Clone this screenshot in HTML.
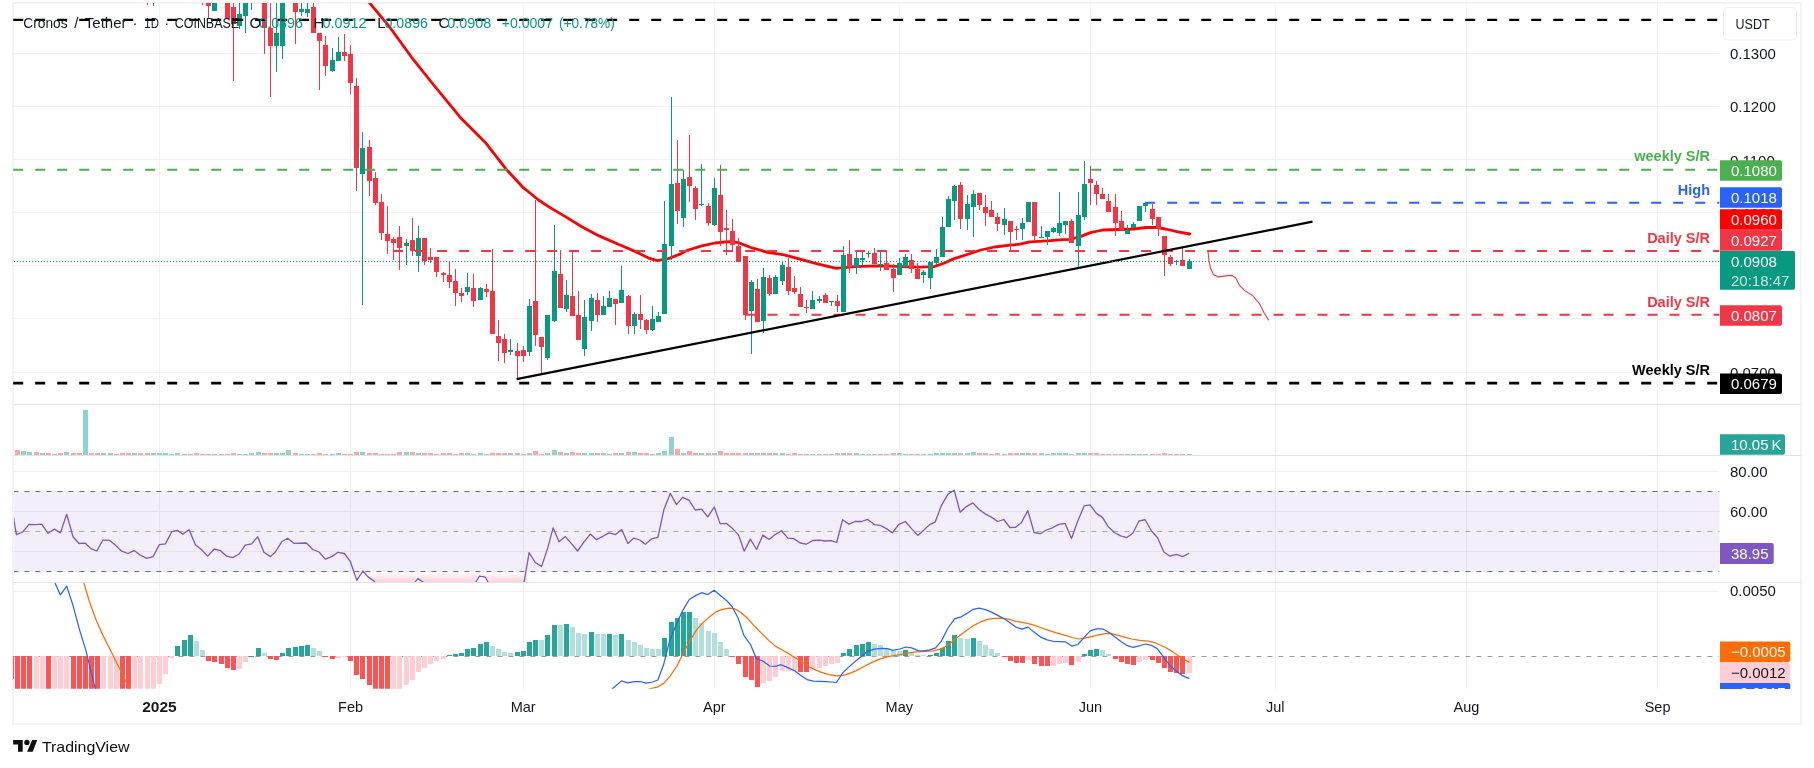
<!DOCTYPE html><html><head><meta charset="utf-8"><title>CROUSDT</title><style>
html,body{margin:0;padding:0;background:#fff}body{width:1814px;height:768px;overflow:hidden;position:relative;font-family:"Liberation Sans",sans-serif}
svg{position:absolute;left:0;top:0;display:block;will-change:transform}text{font-family:"Liberation Sans",sans-serif;font-size:15px;fill:#131722}
.w{fill:#fff}.b{font-weight:bold}.pl{font-weight:bold;font-size:14.5px;text-anchor:end}.t{text-anchor:middle}
</style></head><body>
<svg width="1814" height="768" viewBox="0 0 1814 768">
<defs><clipPath id="cm"><rect x="13" y="3" width="1706.5" height="401"/></clipPath>
<clipPath id="cr"><rect x="14" y="456" width="1705.5" height="126"/></clipPath>
<clipPath id="cd"><rect x="13" y="583" width="1706.5" height="105.8"/></clipPath>
<clipPath id="cb"><rect x="1719" y="583" width="80" height="106"/></clipPath>
<linearGradient id="og" x1="0" y1="571.5" x2="0" y2="582" gradientUnits="userSpaceOnUse"><stop offset="0" stop-color="#ffffff"/><stop offset="1" stop-color="#ffd3d8"/></linearGradient>
</defs>
<rect x="13" y="3" width="1787.9" height="720.8" fill="none" stroke="#f3f3f4" stroke-width="2"/>
<path d="M159.5 4V688.8M350.5 4V688.8M523.5 4V688.8M714.5 4V688.8M899.5 4V688.8M1090.5 4V688.8M1275.5 4V688.8M1466.5 4V688.8M1657.5 4V688.8M14 53.5H1718.8M14 106.5H1718.8M14 159.5H1718.8M14 212.5H1718.8M14 265.5H1718.8M14 318.5H1718.8M14 372.5H1718.8M14 471.5H1718.8M14 511.5H1718.8M14 551.5H1718.8M14 591.5H1718.8" stroke="#f0f1f3" stroke-width="1" fill="none" shape-rendering="crispEdges"/>
<rect x="14" y="491.4" width="1705.5" height="80.1" fill="#f2eefa"/>
<path d="M14 511.5H1719.5M14 551.5H1719.5" stroke="#e6e3ef" stroke-width="1" shape-rendering="crispEdges"/>
<path d="M159.5 491.4V571.5M350.5 491.4V571.5M523.5 491.4V571.5M714.5 491.4V571.5M899.5 491.4V571.5M1090.5 491.4V571.5M1275.5 491.4V571.5M1466.5 491.4V571.5M1657.5 491.4V571.5" stroke="#e6e3ef" stroke-width="1" shape-rendering="crispEdges"/>
<path d="M14 404.5H1800.5M14 455.5H1800.5M14 582.5H1800.5" stroke="#e0e3eb" stroke-width="1" shape-rendering="crispEdges"/>
<path d="M21 451h5v4h-5zM27 452h5v3h-5zM40 453h5v2h-5zM52 454h5v1h-5zM64 452h5v3h-5zM83 410h5v45h-5zM101 453h5v2h-5zM108 453h5v2h-5zM132 453h5v2h-5zM151 453h5v2h-5zM157 453h5v2h-5zM163 453h5v2h-5zM169 454h5v1h-5zM175 453h5v2h-5zM188 454h5v1h-5zM212 454h5v1h-5zM237 454h5v1h-5zM243 454h5v1h-5zM249 453h5v2h-5zM256 452h5v3h-5zM274 453h5v2h-5zM280 453h5v2h-5zM286 450h5v5h-5zM299 454h5v1h-5zM305 454h5v1h-5zM330 454h5v1h-5zM336 453h5v2h-5zM360 452h5v3h-5zM404 452h5v3h-5zM416 453h5v2h-5zM465 453h5v2h-5zM478 453h5v2h-5zM508 453h5v2h-5zM527 453h5v2h-5zM545 453h5v2h-5zM552 450h5v5h-5zM564 453h5v2h-5zM582 453h5v2h-5zM589 453h5v2h-5zM601 453h5v2h-5zM607 454h5v1h-5zM619 453h5v2h-5zM632 452h5v3h-5zM650 454h5v1h-5zM656 453h5v2h-5zM662 451h5v4h-5zM669 437h5v18h-5zM681 453h5v2h-5zM699 453h5v2h-5zM712 453h5v2h-5zM749 453h5v2h-5zM761 453h5v2h-5zM773 453h5v2h-5zM780 453h5v2h-5zM810 454h5v1h-5zM817 454h5v1h-5zM829 454h5v1h-5zM841 453h5v2h-5zM854 453h5v2h-5zM860 454h5v1h-5zM866 454h5v1h-5zM878 454h5v1h-5zM897 453h5v2h-5zM903 454h5v1h-5zM921 454h5v1h-5zM928 454h5v1h-5zM934 453h5v2h-5zM940 453h5v2h-5zM946 453h5v2h-5zM952 453h5v2h-5zM965 453h5v2h-5zM971 452h5v3h-5zM1002 454h5v1h-5zM1020 453h5v2h-5zM1026 453h5v2h-5zM1039 453h5v2h-5zM1045 454h5v1h-5zM1051 453h5v2h-5zM1057 453h5v2h-5zM1063 453h5v2h-5zM1076 453h5v2h-5zM1082 453h5v2h-5zM1125 454h5v1h-5zM1131 454h5v1h-5zM1137 454h5v1h-5zM1143 454h5v1h-5zM1174 454h5v1h-5zM1187 454h5v1h-5z" fill="#92d2cc" shape-rendering="crispEdges"/>
<path d="M15 450h5v5h-5zM34 452h5v3h-5zM46 453h5v2h-5zM58 453h5v2h-5zM71 453h5v2h-5zM77 453h5v2h-5zM89 453h5v2h-5zM95 453h5v2h-5zM114 454h5v1h-5zM120 453h5v2h-5zM126 453h5v2h-5zM138 453h5v2h-5zM145 453h5v2h-5zM182 454h5v1h-5zM194 453h5v2h-5zM200 454h5v1h-5zM206 454h5v1h-5zM219 454h5v1h-5zM225 454h5v1h-5zM231 453h5v2h-5zM262 453h5v2h-5zM268 453h5v2h-5zM293 453h5v2h-5zM311 454h5v1h-5zM317 453h5v2h-5zM323 454h5v1h-5zM342 454h5v1h-5zM348 454h5v1h-5zM354 452h5v3h-5zM367 453h5v2h-5zM373 453h5v2h-5zM379 454h5v1h-5zM385 454h5v1h-5zM391 454h5v1h-5zM397 452h5v3h-5zM410 452h5v3h-5zM422 453h5v2h-5zM428 453h5v2h-5zM434 454h5v1h-5zM441 453h5v2h-5zM447 453h5v2h-5zM453 454h5v1h-5zM459 453h5v2h-5zM471 454h5v1h-5zM484 454h5v1h-5zM490 453h5v2h-5zM496 453h5v2h-5zM502 453h5v2h-5zM515 453h5v2h-5zM521 454h5v1h-5zM533 451h5v4h-5zM539 454h5v1h-5zM558 452h5v3h-5zM570 452h5v3h-5zM576 453h5v2h-5zM595 453h5v2h-5zM613 453h5v2h-5zM626 452h5v3h-5zM638 453h5v2h-5zM644 453h5v2h-5zM675 449h5v6h-5zM687 451h5v4h-5zM693 453h5v2h-5zM706 453h5v2h-5zM718 451h5v4h-5zM724 453h5v2h-5zM730 453h5v2h-5zM736 453h5v2h-5zM743 453h5v2h-5zM755 453h5v2h-5zM767 453h5v2h-5zM786 454h5v1h-5zM792 453h5v2h-5zM798 454h5v1h-5zM804 454h5v1h-5zM823 454h5v1h-5zM835 453h5v2h-5zM847 453h5v2h-5zM872 454h5v1h-5zM884 454h5v1h-5zM891 453h5v2h-5zM909 454h5v1h-5zM915 454h5v1h-5zM958 453h5v2h-5zM977 453h5v2h-5zM983 453h5v2h-5zM989 454h5v1h-5zM995 453h5v2h-5zM1008 453h5v2h-5zM1014 453h5v2h-5zM1032 453h5v2h-5zM1069 454h5v1h-5zM1088 453h5v2h-5zM1094 453h5v2h-5zM1100 454h5v1h-5zM1106 454h5v1h-5zM1113 454h5v1h-5zM1119 454h5v1h-5zM1150 454h5v1h-5zM1156 454h5v1h-5zM1162 453h5v2h-5zM1168 454h5v1h-5zM1180 454h5v1h-5z" fill="#f7a9a7" shape-rendering="crispEdges"/>
<g clip-path="url(#cm)"><polyline points="366.0,-2.0 370.0,3.4 388.7,25.8 411.6,57.3 434.5,86.0 454.6,110.3 460.3,117.5 486.1,143.3 506.1,169.1 523.3,187.7 530.0,193.0 538.5,200.0 549.7,207.4 564.5,216.1 581.8,226.7 599.1,235.9 618.9,244.5 636.2,251.9 648.6,258.1 657.4,260.6 668.4,258.6 680.7,253.9 686.8,250.5 700.9,246.2 715.0,243.0 729.0,241.6 738.3,242.6 750.8,247.5 767.5,252.3 784.2,254.8 800.8,259.4 817.5,263.8 836.2,268.3 843.5,267.7 855.0,266.7 875.8,265.8 896.7,266.4 906.7,266.8 920.4,267.1 934.0,266.6 943.8,263.2 953.6,258.9 967.2,254.5 980.9,250.0 994.6,247.0 1008.2,245.3 1020.0,244.1 1029.7,241.8 1047.3,240.8 1062.9,239.6 1069.8,239.4 1079.5,236.9 1091.2,232.4 1103.0,230.0 1118.6,229.5 1134.2,229.0 1145.9,227.5 1155.7,227.3 1165.4,229.0 1177.1,231.6 1189.8,234.0" fill="none" stroke="#ff0000" stroke-width="2.8" stroke-linejoin="round" stroke-linecap="round"/></g>
<g clip-path="url(#cm)" shape-rendering="crispEdges">
<path d="M153 0h1v6h-1zM214 0h1v11h-1zM212 0h5v11h-5zM239 0h1v29h-1zM237 14h5v12h-5zM245 0h1v33h-1zM243 0h5v16h-5zM251 0h1v10h-1zM276 0h1v72h-1zM274 33h5v13h-5zM282 0h1v59h-1zM280 0h5v46h-5zM301 0h1v16h-1zM299 9h5v3h-5zM307 0h1v17h-1zM305 9h5v4h-5zM332 48h1v24h-1zM330 60h5v11h-5zM338 37h1v24h-1zM336 52h5v9h-5zM362 132h1v173h-1zM360 148h5v26h-5zM406 239h1v26h-1zM404 243h5v3h-5zM418 226h1v46h-1zM416 238h5v18h-5zM467 273h1v22h-1zM465 287h5v5h-5zM480 287h1v13h-1zM478 288h5v12h-5zM510 339h1v16h-1zM508 350h5v2h-5zM529 299h1v57h-1zM527 306h5v46h-5zM547 315h1v45h-1zM545 315h5v43h-5zM554 225h1v97h-1zM552 271h5v50h-5zM566 280h1v32h-1zM564 295h5v14h-5zM584 300h1v56h-1zM582 317h5v32h-5zM591 294h1v37h-1zM589 298h5v23h-5zM603 296h1v19h-1zM601 306h5v9h-5zM609 291h1v16h-1zM607 298h5v9h-5zM621 266h1v37h-1zM619 290h5v13h-5zM634 312h1v22h-1zM632 314h5v12h-5zM652 306h1v25h-1zM650 319h5v11h-5zM658 312h1v10h-1zM656 316h5v6h-5zM664 201h1v113h-1zM662 244h5v70h-5zM671 97h1v163h-1zM669 184h5v62h-5zM683 170h1v57h-1zM681 179h5v39h-5zM701 164h1v42h-1zM699 204h5v1h-5zM714 178h1v48h-1zM712 188h5v37h-5zM751 280h1v74h-1zM749 282h5v29h-5zM763 268h1v65h-1zM761 277h5v44h-5zM775 275h1v19h-1zM773 277h5v17h-5zM782 261h1v24h-1zM780 265h5v16h-5zM812 291h1v18h-1zM810 300h5v9h-5zM819 296h1v7h-1zM817 299h5v2h-5zM831 301h1v5h-1zM829 301h5v1h-5zM843 246h1v66h-1zM841 255h5v57h-5zM856 251h1v23h-1zM854 258h5v9h-5zM862 252h1v14h-1zM860 258h5v2h-5zM868 251h1v7h-1zM866 253h5v1h-5zM880 251h1v20h-1zM878 264h5v1h-5zM899 258h1v17h-1zM897 263h5v12h-5zM905 254h1v13h-1zM903 257h5v10h-5zM923 270h1v13h-1zM921 272h5v3h-5zM930 262h1v27h-1zM928 262h5v16h-5zM936 249h1v16h-1zM934 257h5v6h-5zM942 217h1v40h-1zM940 227h5v30h-5zM948 196h1v31h-1zM946 199h5v28h-5zM954 185h1v35h-1zM952 186h5v15h-5zM967 195h1v35h-1zM965 204h5v15h-5zM973 190h1v47h-1zM971 194h5v13h-5zM1004 208h1v27h-1zM1002 219h5v6h-5zM1022 218h1v22h-1zM1020 223h5v6h-5zM1028 202h1v20h-1zM1026 202h5v20h-5zM1041 226h1v12h-1zM1039 237h5v1h-5zM1047 231h1v14h-1zM1045 231h5v6h-5zM1053 227h1v6h-1zM1051 228h5v4h-5zM1059 192h1v44h-1zM1057 223h5v10h-5zM1065 221h1v13h-1zM1063 221h5v4h-5zM1078 192h1v75h-1zM1076 215h5v31h-5zM1084 161h1v59h-1zM1082 184h5v33h-5zM1127 225h1v9h-1zM1125 230h5v4h-5zM1133 222h1v6h-1zM1131 224h5v4h-5zM1139 206h1v15h-1zM1137 206h5v15h-5zM1145 203h1v9h-1zM1143 203h5v3h-5zM1176 260h1v5h-1zM1174 261h5v1h-5zM1189 259h1v10h-1zM1187 261h5v8h-5z" fill="#089981"/>
<path d="M147 0h1v5h-1zM202 0h1v5h-1zM208 0h1v19h-1zM206 0h5v6h-5zM227 0h1v19h-1zM225 0h5v19h-5zM233 0h1v81h-1zM231 7h5v17h-5zM264 0h1v54h-1zM262 0h5v28h-5zM270 0h1v97h-1zM268 28h5v18h-5zM295 0h1v44h-1zM293 0h5v12h-5zM313 0h1v33h-1zM311 7h5v26h-5zM319 33h1v57h-1zM317 33h5v8h-5zM325 36h1v40h-1zM323 45h5v21h-5zM344 34h1v27h-1zM342 52h5v4h-5zM350 45h1v49h-1zM348 54h5v29h-5zM356 78h1v113h-1zM354 86h5v82h-5zM369 140h1v56h-1zM367 147h5v34h-5zM375 172h1v33h-1zM373 178h5v25h-5zM381 194h1v46h-1zM379 202h5v31h-5zM387 206h1v48h-1zM385 234h5v7h-5zM393 237h1v23h-1zM391 239h5v4h-5zM399 226h1v44h-1zM397 237h5v11h-5zM412 218h1v38h-1zM410 240h5v11h-5zM424 238h1v27h-1zM422 238h5v23h-5zM430 248h1v15h-1zM428 257h5v3h-5zM436 257h1v20h-1zM434 257h5v15h-5zM443 272h1v10h-1zM441 273h5v2h-5zM449 261h1v27h-1zM447 275h5v7h-5zM455 269h1v37h-1zM453 281h5v12h-5zM461 288h1v14h-1zM459 293h5v3h-5zM473 274h1v33h-1zM471 288h5v13h-5zM486 284h1v13h-1zM484 289h5v3h-5zM492 249h1v85h-1zM490 291h5v43h-5zM498 320h1v41h-1zM496 336h5v7h-5zM504 334h1v29h-1zM502 339h5v14h-5zM517 343h1v36h-1zM515 351h5v5h-5zM523 346h1v16h-1zM521 350h5v6h-5zM535 200h1v146h-1zM533 301h5v34h-5zM541 337h1v38h-1zM539 337h5v10h-5zM560 250h1v58h-1zM558 274h5v34h-5zM572 250h1v66h-1zM570 296h5v20h-5zM578 291h1v49h-1zM576 315h5v25h-5zM597 293h1v29h-1zM595 300h5v15h-5zM615 299h1v26h-1zM613 299h5v5h-5zM628 295h1v39h-1zM626 296h5v30h-5zM640 295h1v34h-1zM638 314h5v6h-5zM646 319h1v15h-1zM644 320h5v10h-5zM677 140h1v84h-1zM675 183h5v28h-5zM689 135h1v67h-1zM687 177h5v9h-5zM695 186h1v34h-1zM693 188h5v21h-5zM708 203h1v23h-1zM706 206h5v17h-5zM720 165h1v81h-1zM718 195h5v37h-5zM726 210h1v45h-1zM724 228h5v2h-5zM732 219h1v32h-1zM730 231h5v14h-5zM738 238h1v24h-1zM736 246h5v16h-5zM745 256h1v64h-1zM743 256h5v59h-5zM757 279h1v43h-1zM755 289h5v33h-5zM769 275h1v21h-1zM767 278h5v16h-5zM788 258h1v37h-1zM786 267h5v24h-5zM794 276h1v18h-1zM792 288h5v4h-5zM800 287h1v20h-1zM798 294h5v13h-5zM806 300h1v13h-1zM804 307h5v1h-5zM825 293h1v10h-1zM823 295h5v8h-5zM837 295h1v17h-1zM835 301h5v5h-5zM849 240h1v33h-1zM847 254h5v13h-5zM874 248h1v16h-1zM872 253h5v11h-5zM886 251h1v19h-1zM884 263h5v7h-5zM893 264h1v28h-1zM891 269h5v9h-5zM911 254h1v19h-1zM909 260h5v9h-5zM917 263h1v16h-1zM915 269h5v10h-5zM960 182h1v47h-1zM958 185h5v34h-5zM979 193h1v17h-1zM977 193h5v12h-5zM985 195h1v31h-1zM983 207h5v6h-5zM991 201h1v16h-1zM989 210h5v7h-5zM997 213h1v18h-1zM995 217h5v7h-5zM1010 221h1v29h-1zM1008 221h5v11h-5zM1016 226h1v14h-1zM1014 229h5v1h-5zM1034 202h1v39h-1zM1032 202h5v34h-5zM1071 219h1v24h-1zM1069 221h5v22h-5zM1090 166h1v39h-1zM1088 179h5v4h-5zM1096 181h1v24h-1zM1094 185h5v9h-5zM1102 188h1v11h-1zM1100 194h5v5h-5zM1108 194h1v18h-1zM1106 201h5v11h-5zM1115 194h1v42h-1zM1113 207h5v16h-5zM1121 211h1v19h-1zM1119 221h5v9h-5zM1152 204h1v21h-1zM1150 209h5v10h-5zM1158 217h1v19h-1zM1156 217h5v12h-5zM1164 236h1v40h-1zM1162 236h5v19h-5zM1170 255h1v11h-1zM1168 257h5v7h-5zM1182 248h1v18h-1zM1180 260h5v6h-5z" fill="#f23645"/>
</g>
<g clip-path="url(#cm)">
<path d="M13.2 19.9H1719.5" stroke="#000" stroke-width="2.4" stroke-dasharray="10 12" fill="none"/>
<path d="M13.2 169.7H1719.5" stroke="#4caf50" stroke-width="2" stroke-dasharray="10 12" fill="none"/>
<path d="M1145.2 202.7H1719.5" stroke="#2962ff" stroke-width="2" stroke-dasharray="10 12" fill="none"/>
<path d="M393.1 250.9H1719.5" stroke="#f23645" stroke-width="2" stroke-dasharray="10 12" fill="none"/>
<path d="M745.5 314.8H1719.5" stroke="#f23645" stroke-width="2" stroke-dasharray="10 12" fill="none"/>
<path d="M13.2 383.1H1719.5" stroke="#000" stroke-width="2.6" stroke-dasharray="10 12" fill="none"/>
<path d="M516.6 379.2L1312.5 221.6" stroke="#000" stroke-width="2.2" fill="none"/>
<polyline points="1208.0,251.1 1208.9,260.3 1210.5,268.1 1213.4,274.4 1218.3,276.9 1226.1,275.9 1232.0,275.4 1235.9,278.3 1239.8,285.7 1244.7,290.6 1252.5,295.5 1259.3,303.3 1264.2,313.0 1268.7,320.3" fill="none" stroke="#f23645" stroke-width="1.1" stroke-linejoin="round"/>
<path d="M14 261.5H1719.5" stroke="#089981" stroke-width="1" stroke-dasharray="1 2" shape-rendering="crispEdges"/>
</g>
<g clip-path="url(#cr)">
<polygon points="356.7,571.5 356.7,580.3 363.0,571.5 367.7,576.6 374.0,581.1 380.1,588.7 386.3,590.4 392.8,592.1 399.0,590.4 405.3,588.7 411.7,586.2 418.0,578.6 424.1,582.8 430.4,587.0 436.8,588.7 443.1,590.4 449.3,592.1 455.4,590.4 461.7,588.7 467.6,587.9 473.5,586.2 479.4,576.2 485.4,577.2 490.1,586.2 496.4,590.4 502.6,592.1 509.1,593.8 515.0,595.5 521.8,595.5 529.1,571.5 529.1,571.5" fill="url(#og)"/>
<path d="M13.4 491.5H1719.5M13.4 571.5H1719.5" stroke="#6b6e78" stroke-width="1.2" stroke-dasharray="5 6" fill="none"/>
<path d="M13.4 531.5H1719.5" stroke="#a9abb3" stroke-width="1.2" stroke-dasharray="5 6" fill="none"/>
<polyline points="13.4,516.8 16.4,534.6 22.7,532.0 29.1,524.4 35.4,524.7 41.7,524.1 47.9,533.2 54.4,529.1 60.4,532.9 66.7,514.3 73.0,536.8 79.1,543.5 85.3,543.2 90.9,548.6 96.7,551.0 102.8,540.2 109.4,540.2 115.8,545.6 121.7,551.2 128.0,553.5 134.1,550.6 140.4,555.2 146.8,558.3 153.1,556.6 159.3,544.7 165.4,543.9 171.7,531.7 177.6,530.5 182.8,534.1 189.1,529.7 195.4,544.7 201.6,549.8 207.7,556.1 214.2,549.0 220.3,550.6 226.7,556.2 232.8,557.6 239.1,554.0 245.3,545.1 251.6,543.9 257.7,536.8 263.9,552.3 270.4,556.6 275.3,552.0 281.7,541.8 287.6,538.3 294.1,543.4 306.4,543.0 312.7,549.5 319.0,552.0 325.4,559.1 331.7,556.6 337.9,552.3 344.4,553.5 350.4,561.7 356.7,580.3 363.0,571.0 367.7,576.6 374.0,581.1 380.1,588.7 386.3,590.4 392.8,592.1 399.0,590.4 405.3,588.7 411.7,586.2 418.0,578.6 424.1,582.8 430.4,587.0 436.8,588.7 443.1,590.4 449.3,592.1 455.4,590.4 461.7,588.7 467.6,587.9 473.5,586.2 479.4,576.2 485.4,577.2 490.1,586.2 496.4,590.4 502.6,592.1 509.1,593.8 515.0,595.5 521.8,595.5 529.1,552.7 535.3,562.5 541.6,566.4 547.7,548.1 553.1,527.8 559.0,541.8 565.3,536.6 571.7,543.9 577.6,551.0 584.1,541.8 590.3,534.1 596.3,539.6 603.0,536.3 609.0,532.9 615.6,534.6 621.7,529.5 627.9,543.4 633.9,538.1 639.8,540.0 645.4,544.2 651.6,538.8 657.9,537.4 664.0,509.2 670.3,493.4 676.5,504.6 682.6,497.3 688.9,500.2 695.3,510.0 701.6,509.2 707.8,516.8 714.3,507.0 720.2,523.9 726.5,523.4 732.6,528.6 738.5,534.9 744.2,551.2 750.3,539.1 756.6,549.5 762.9,535.1 769.0,539.5 775.2,534.6 781.5,530.7 787.9,538.1 793.8,538.6 800.1,543.0 806.2,544.2 812.8,540.5 819.2,540.2 825.2,541.0 831.1,540.7 836.7,542.5 842.6,519.7 848.9,524.1 855.1,521.5 861.6,521.5 867.5,519.3 874.3,524.6 880.2,525.3 886.4,528.6 892.5,532.9 898.6,524.7 905.4,521.5 911.5,528.6 917.8,535.4 923.7,530.3 929.3,524.9 935.2,521.9 941.5,505.3 947.9,494.3 954.2,490.2 960.1,512.2 966.5,506.6 972.8,502.9 979.1,509.5 985.2,513.9 991.4,517.1 997.7,521.5 1003.8,519.5 1010.0,527.5 1015.6,527.3 1021.6,522.4 1027.8,510.5 1034.1,532.5 1040.2,533.7 1046.4,530.0 1052.4,527.8 1058.8,524.4 1065.1,523.4 1071.5,538.5 1077.8,521.0 1084.2,505.8 1090.1,504.9 1096.4,513.4 1102.6,517.6 1108.2,526.6 1114.2,532.5 1120.6,535.9 1126.8,537.6 1132.8,533.2 1139.0,521.0 1145.1,519.7 1151.4,530.8 1157.7,538.0 1163.8,552.0 1170.0,556.2 1176.5,554.4 1182.7,556.6 1189.1,553.2" fill="none" stroke="#7e57c2" stroke-width="1.3" stroke-linejoin="round"/>
</g>
<g clip-path="url(#cd)">
<path d="M13.4 656.5H1719.5" stroke="#9a9ca5" stroke-width="1.1" stroke-dasharray="5 6" fill="none"/>
<path d="M9 656h5v23h-5zM15 656h5v40h-5zM21 656h5v40h-5zM27 656h5v40h-5zM46 656h5v40h-5zM71 656h5v40h-5zM77 656h5v40h-5zM83 656h5v40h-5zM89 656h5v40h-5zM95 656h5v40h-5zM120 656h5v40h-5zM126 656h5v40h-5zM206 656h5v5h-5zM212 656h5v6h-5zM219 656h5v8h-5zM225 656h5v12h-5zM231 656h5v14h-5zM268 656h5v3h-5zM274 656h5v4h-5zM323 656h5v1h-5zM330 656h5v3h-5zM348 656h5v5h-5zM354 656h5v19h-5zM360 656h5v23h-5zM367 656h5v29h-5zM373 656h5v40h-5zM379 656h5v40h-5zM385 656h5v40h-5zM730 656h5v1h-5zM736 656h5v8h-5zM743 656h5v21h-5zM749 656h5v24h-5zM755 656h5v31h-5zM798 656h5v16h-5zM804 656h5v16h-5zM1002 656h5v1h-5zM1008 656h5v5h-5zM1014 656h5v7h-5zM1020 656h5v7h-5zM1032 656h5v8h-5zM1039 656h5v10h-5zM1045 656h5v10h-5zM1069 656h5v9h-5zM1113 656h5v3h-5zM1119 656h5v6h-5zM1125 656h5v8h-5zM1131 656h5v9h-5zM1150 656h5v4h-5zM1156 656h5v7h-5zM1162 656h5v12h-5zM1168 656h5v16h-5zM1174 656h5v17h-5zM1180 656h5v18h-5z" fill="#ff5252" shape-rendering="crispEdges"/>
<path d="M34 656h5v40h-5zM40 656h5v40h-5zM52 656h5v40h-5zM58 656h5v40h-5zM64 656h5v40h-5zM101 656h5v40h-5zM108 656h5v40h-5zM114 656h5v40h-5zM132 656h5v40h-5zM138 656h5v40h-5zM145 656h5v40h-5zM151 656h5v40h-5zM157 656h5v28h-5zM163 656h5v18h-5zM169 656h5v2h-5zM237 656h5v13h-5zM243 656h5v6h-5zM336 656h5v2h-5zM342 656h5v1h-5zM391 656h5v40h-5zM397 656h5v40h-5zM404 656h5v29h-5zM410 656h5v24h-5zM416 656h5v16h-5zM422 656h5v12h-5zM428 656h5v8h-5zM434 656h5v5h-5zM441 656h5v3h-5zM761 656h5v27h-5zM767 656h5v25h-5zM773 656h5v21h-5zM780 656h5v15h-5zM786 656h5v15h-5zM792 656h5v14h-5zM810 656h5v14h-5zM817 656h5v12h-5zM823 656h5v10h-5zM829 656h5v8h-5zM835 656h5v7h-5zM1026 656h5v4h-5zM1051 656h5v10h-5zM1057 656h5v8h-5zM1063 656h5v7h-5zM1076 656h5v6h-5zM1137 656h5v6h-5zM1143 656h5v4h-5zM1187 656h5v17h-5z" fill="#ffcdd2" shape-rendering="crispEdges"/>
<path d="M175 646h5v10h-5zM182 640h5v16h-5zM188 635h5v21h-5zM249 656h5v1h-5zM256 648h5v8h-5zM280 653h5v3h-5zM286 648h5v8h-5zM293 647h5v9h-5zM299 646h5v10h-5zM305 645h5v11h-5zM447 655h5v1h-5zM453 654h5v2h-5zM459 653h5v3h-5zM465 649h5v7h-5zM471 648h5v8h-5zM478 644h5v12h-5zM484 642h5v14h-5zM515 652h5v4h-5zM521 651h5v5h-5zM527 642h5v14h-5zM533 640h5v16h-5zM545 635h5v21h-5zM552 625h5v31h-5zM564 624h5v32h-5zM589 632h5v24h-5zM607 634h5v22h-5zM619 634h5v22h-5zM662 638h5v18h-5zM669 622h5v34h-5zM675 618h5v38h-5zM681 612h5v44h-5zM687 612h5v44h-5zM841 653h5v3h-5zM847 649h5v7h-5zM854 645h5v11h-5zM860 644h5v12h-5zM866 642h5v14h-5zM903 650h5v6h-5zM928 655h5v1h-5zM934 653h5v3h-5zM940 648h5v8h-5zM946 641h5v15h-5zM952 635h5v21h-5zM971 638h5v18h-5zM1082 654h5v2h-5zM1088 650h5v6h-5zM1094 649h5v7h-5z" fill="#26a69a" shape-rendering="crispEdges"/>
<path d="M194 641h5v15h-5zM200 650h5v6h-5zM262 653h5v3h-5zM311 648h5v8h-5zM317 651h5v5h-5zM490 646h5v10h-5zM496 649h5v7h-5zM502 652h5v4h-5zM508 653h5v3h-5zM539 640h5v16h-5zM558 625h5v31h-5zM570 627h5v29h-5zM576 633h5v23h-5zM582 634h5v22h-5zM595 634h5v22h-5zM601 634h5v22h-5zM613 635h5v21h-5zM626 640h5v16h-5zM632 642h5v14h-5zM638 645h5v11h-5zM644 648h5v8h-5zM650 649h5v7h-5zM656 649h5v7h-5zM693 618h5v38h-5zM699 623h5v33h-5zM706 631h5v25h-5zM712 633h5v23h-5zM718 642h5v14h-5zM724 649h5v7h-5zM872 644h5v12h-5zM878 645h5v11h-5zM884 649h5v7h-5zM891 651h5v5h-5zM897 651h5v5h-5zM909 653h5v3h-5zM915 655h5v1h-5zM921 655h5v1h-5zM958 638h5v18h-5zM965 639h5v17h-5zM977 641h5v15h-5zM983 645h5v11h-5zM989 649h5v7h-5zM995 653h5v3h-5zM1100 650h5v6h-5zM1106 654h5v2h-5z" fill="#b2dfdb" shape-rendering="crispEdges"/>
<polyline points="82.8,580.0 83.6,582.3 89.4,601.5 96.0,619.7 102.6,634.6 109.2,647.8 115.8,661.0 122.5,674.3 129.1,688.8 133.2,699.1" fill="none" stroke="#ff6d00" stroke-width="1.25" stroke-linejoin="round"/>
<polyline points="641.3,692.5 649.6,688.8 657.1,687.2 663.7,683.4 670.3,675.9 676.9,666.0 683.5,652.8 690.1,640.4 696.7,629.6 703.4,622.2 710.0,616.4 715.8,611.9 722.4,609.3 729.0,608.1 734.8,608.9 740.6,612.2 747.2,618.0 754.6,626.3 761.2,632.9 768.7,640.4 775.3,646.1 781.9,649.8 788.5,653.6 795.1,657.7 800.9,661.0 807.5,666.0 814.2,669.3 821.6,672.3 829.0,674.6 836.5,675.9 843.1,675.4 849.7,673.4 856.3,670.6 864.6,666.3 872.9,661.9 881.1,658.6 889.4,656.4 900.0,654.7 908.3,652.8 916.5,651.9 924.8,651.4 933.1,650.8 940.5,649.1 948.0,645.3 954.6,639.5 961.2,634.6 967.8,629.6 974.4,625.1 981.0,621.7 987.6,619.4 994.3,618.4 1000.9,618.2 1007.5,618.9 1015.8,621.3 1024.0,622.7 1032.3,624.7 1040.6,627.5 1048.8,630.4 1057.1,633.2 1065.4,635.4 1072.0,637.5 1078.6,639.0 1085.2,638.2 1091.8,636.6 1098.4,634.9 1105.1,633.7 1111.7,633.7 1118.3,635.4 1124.9,637.1 1131.5,639.0 1139.8,640.4 1148.1,641.2 1156.3,643.2 1164.6,647.0 1172.9,651.9 1181.1,657.7 1189.4,662.4" fill="none" stroke="#ff6d00" stroke-width="1.25" stroke-linejoin="round"/>
<polyline points="53.3,580.0 54.7,582.3 60.4,594.9 66.7,586.1 72.8,604.8 79.5,629.6 86.1,651.1 95.2,688.8 99.3,705.7" fill="none" stroke="#2962ff" stroke-width="1.25" stroke-linejoin="round"/>
<polyline points="606.6,695.8 612.4,688.8 621.5,680.9 627.8,682.9 633.9,681.7 640.2,681.5 646.3,683.2 652.6,682.0 657.9,680.0 663.7,664.3 669.5,641.2 676.1,624.7 682.2,611.4 689.3,599.5 695.9,595.4 701.7,592.7 707.8,594.6 714.1,590.3 720.7,595.7 726.8,600.7 732.3,607.0 738.1,618.0 743.9,635.4 750.5,644.5 756.3,658.6 762.9,661.0 769.5,666.0 775.3,666.3 781.1,664.7 787.7,667.6 794.3,670.6 800.9,675.6 807.0,679.6 813.3,681.2 819.9,681.4 825.7,681.7 831.5,682.0 836.5,682.5 842.3,673.4 848.1,667.6 854.7,661.9 861.3,656.4 867.9,651.1 874.5,649.1 881.1,648.3 887.7,648.6 892.7,650.3 900.0,649.0 905.8,647.0 911.6,647.8 918.2,650.6 924.0,650.8 929.8,649.8 935.6,647.8 941.3,641.2 948.0,628.0 954.6,618.9 960.4,617.2 966.1,613.9 972.8,609.4 979.4,608.1 986.0,609.8 992.6,612.6 999.2,616.1 1005.8,619.7 1015.8,627.1 1021.9,629.1 1028.2,627.1 1034.0,632.1 1040.6,637.1 1047.2,639.9 1053.8,641.5 1059.6,641.7 1065.4,641.8 1072.0,646.1 1077.8,644.5 1084.4,637.1 1090.2,630.9 1096.8,628.8 1102.6,628.8 1109.2,632.6 1115.0,637.1 1121.6,642.0 1127.4,645.7 1133.2,647.3 1139.0,645.8 1145.6,644.0 1151.4,645.3 1157.2,648.6 1162.9,656.1 1169.6,665.2 1176.2,671.0 1182.8,675.9 1189.4,678.7" fill="none" stroke="#2962ff" stroke-width="1.25" stroke-linejoin="round"/>
</g>
<text x="1730" y="59.3">0.1300</text>
<text x="1730" y="112.4">0.1200</text>
<text x="1730" y="165.5">0.1100</text>
<text x="1730" y="218.6">0.1000</text>
<text x="1730" y="271.7">0.0900</text>
<text x="1730" y="324.8">0.0800</text>
<text x="1730" y="377.9">0.0700</text>
<text x="1730" y="476.7">80.00</text>
<text x="1730" y="517.0">60.00</text>
<text x="1730" y="557.0">40.00</text>
<text x="1730" y="596.3">0.0050</text>
<text x="1730" y="661.9">0.0000</text>
<g><path d="M1720 160.2H1780.0a2 2 0 0 1 2 2V178.8a2 2 0 0 1 -2 2H1720Z" fill="#4caf50"/>
<text x="1731" y="175.9" fill="#fff" style="fill:#fff" opacity="1">0.1080</text>
</g>
<g><path d="M1720 187.2H1780.0a2 2 0 0 1 2 2V205.8a2 2 0 0 1 -2 2H1720Z" fill="#2962ff"/>
<text x="1731" y="202.9" fill="#fff" style="fill:#fff" opacity="1">0.1018</text>
</g>
<g><path d="M1720 209.2H1780.0a2 2 0 0 1 2 2V227.8a2 2 0 0 1 -2 2H1720Z" fill="#ff0000"/>
<text x="1731" y="224.9" fill="#fff" style="fill:#fff" opacity="1">0.0960</text>
</g>
<g><path d="M1720 229.8H1780.0a2 2 0 0 1 2 2V248.8a2 2 0 0 1 -2 2H1720Z" fill="#f23645"/>
<text x="1731" y="245.7" fill="#fff" style="fill:#fff" opacity="1">0.0927</text>
</g>
<g><path d="M1720 251H1793.0a2 2 0 0 1 2 2V287.7a2 2 0 0 1 -2 2H1720Z" fill="#089981"/>
<text x="1731" y="266.7" fill="#fff" style="fill:#fff" opacity="1">0.0908</text>
<text x="1731" y="285.5" fill="#fff" style="fill:#fff" opacity="0.8">20:18:47</text>
</g>
<g><path d="M1720 305.3H1780.0a2 2 0 0 1 2 2V323.7a2 2 0 0 1 -2 2H1720Z" fill="#f23645"/>
<text x="1731" y="320.9" fill="#fff" style="fill:#fff" opacity="1">0.0807</text>
</g>
<g><path d="M1720 373.4H1780.0a2 2 0 0 1 2 2V391.9a2 2 0 0 1 -2 2H1720Z" fill="#000"/>
<text x="1731" y="389.1" fill="#fff" style="fill:#fff" opacity="1">0.0679</text>
</g>
<g><path d="M1720 434.2H1783.0a2 2 0 0 1 2 2V452.8a2 2 0 0 1 -2 2H1720Z" fill="#26a69a"/>
<text x="1731" y="449.9" fill="#fff" style="fill:#fff" opacity="1">10.05&#8201;K</text>
</g>
<g><path d="M1720 543.1H1771.7a2 2 0 0 1 2 2V561.9a2 2 0 0 1 -2 2H1720Z" fill="#7e57c2"/>
<text x="1731" y="558.9" fill="#fff" style="fill:#fff" opacity="1">38.95</text>
</g>
<g><path d="M1720 641.4H1788.3a2 2 0 0 1 2 2V659.9a2 2 0 0 1 -2 2H1720Z" fill="#ff6d00"/>
<text x="1731" y="657.1" fill="#fff" style="fill:#fff" opacity="1">&#8722;0.0005</text>
</g>
<g><path d="M1720 661.9H1788.3a2 2 0 0 1 2 2V681.0a2 2 0 0 1 -2 2H1720Z" fill="#ffcdd2"/>
<text x="1731" y="677.9" fill="#131722" style="fill:#131722" opacity="1">&#8722;0.0012</text>
</g>
<g clip-path="url(#cb)"><path d="M1720 683H1788.3a2 2 0 0 1 2 2V702.0a2 2 0 0 1 -2 2H1720Z" fill="#2962ff"/>
<text x="1731" y="697.7" fill="#fff" style="fill:#fff" opacity="1">&#8722;0.0017</text>
</g>
<rect x="1723.5" y="7.5" width="73" height="32.5" rx="4" fill="#fff" stroke="#ebedf1" stroke-width="1"/>
<text x="1735.6" y="28.6" textLength="34" lengthAdjust="spacingAndGlyphs" style="font-size:14.5px">USDT</text>
<text class="pl" x="1710" y="161.3" style="fill:#4caf50">weekly S/R</text>
<text class="pl" x="1710" y="194.5" style="fill:#2962ff">High</text>
<text class="pl" x="1710" y="242.6" style="fill:#f23645">Daily S/R</text>
<text class="pl" x="1710" y="306.6" style="fill:#f23645">Daily S/R</text>
<text class="pl" x="1710" y="374.7" style="fill:#000">Weekly S/R</text>
<text class="t b" x="159.5" y="712" style="font-size:15.5px">2025</text>
<text class="t" x="350.6" y="712" style="font-size:14.5px">Feb</text>
<text class="t" x="523.2" y="712" style="font-size:14.5px">Mar</text>
<text class="t" x="714.3" y="712" style="font-size:14.5px">Apr</text>
<text class="t" x="899.3" y="712" style="font-size:14.5px">May</text>
<text class="t" x="1090.4" y="712" style="font-size:14.5px">Jun</text>
<text class="t" x="1275.3" y="712" style="font-size:14.5px">Jul</text>
<text class="t" x="1466.4" y="712" style="font-size:14.5px">Aug</text>
<text class="t" x="1657.6" y="712" style="font-size:14.5px">Sep</text>
<text x="23.3" y="28" textLength="44.3" lengthAdjust="spacingAndGlyphs" style="fill:#131722">Cronos</text>
<text x="74.2" y="28" style="fill:#131722">/</text>
<text x="84.8" y="28" textLength="41.7" lengthAdjust="spacingAndGlyphs" style="fill:#131722">Tether</text>
<text x="132.5" y="28" style="fill:#131722">&#183;</text>
<text x="144.3" y="28" textLength="14.6" lengthAdjust="spacingAndGlyphs" style="fill:#131722">1D</text>
<text x="164.3" y="28" style="fill:#131722">&#183;</text>
<text x="174.8" y="28" textLength="64.2" lengthAdjust="spacingAndGlyphs" style="fill:#131722">COINBASE</text>
<text x="249.4" y="28" style="fill:#131722">O</text>
<text x="259.3" y="28" textLength="43.5" lengthAdjust="spacingAndGlyphs" style="fill:#089981">0.0896</text>
<text x="313.4" y="28" style="fill:#131722">H</text>
<text x="322.6" y="28" textLength="44" lengthAdjust="spacingAndGlyphs" style="fill:#089981">0.0912</text>
<text x="377.3" y="28" style="fill:#131722">L</text>
<text x="384.4" y="28" textLength="43.6" lengthAdjust="spacingAndGlyphs" style="fill:#089981">0.0896</text>
<text x="438.4" y="28" style="fill:#131722">C</text>
<text x="447.2" y="28" textLength="44" lengthAdjust="spacingAndGlyphs" style="fill:#089981">0.0908</text>
<text x="501.7" y="28" textLength="51.3" lengthAdjust="spacingAndGlyphs" style="fill:#089981">+0.0007</text>
<text x="559" y="28" textLength="55.8" lengthAdjust="spacingAndGlyphs" style="fill:#089981">(+0.78%)</text>
<g transform="translate(13.16,739.9)" fill="#0f0f0f"><path d="M0 0H9.54V11.9H4.84V4.6H0Z"/><circle cx="13.74" cy="2.55" r="2.65"/><path d="M19.04 0H24.04L19.54 11.9H13.9Z"/></g>
<text x="41.9" y="751.6" textLength="87.6" lengthAdjust="spacingAndGlyphs" style="font-size:15px;fill:#0f0f0f">TradingView</text>
</svg></body></html>
